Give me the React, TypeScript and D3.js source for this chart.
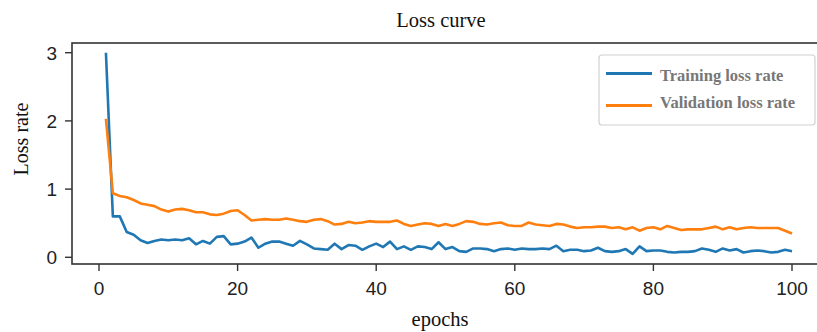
import React from "react";
import * as d3 from "d3";

const epochs: number[] = Array.from({ length: 100 }, (_, i) => i + 1);

const trainingLoss: number[] = [
  3.0, 0.6, 0.6, 0.37, 0.33, 0.25, 0.21, 0.24, 0.26, 0.25,
  0.26, 0.25, 0.28, 0.19, 0.24, 0.2, 0.3, 0.31, 0.19, 0.2,
  0.23, 0.29, 0.14, 0.2, 0.23, 0.23, 0.2, 0.17, 0.24, 0.19,
  0.13, 0.12, 0.11, 0.2, 0.12, 0.18, 0.17, 0.11, 0.16, 0.2,
  0.15, 0.23, 0.12, 0.16, 0.11, 0.16, 0.15, 0.12, 0.22, 0.12,
  0.15, 0.09, 0.08, 0.13, 0.13, 0.12, 0.09, 0.12, 0.13, 0.11,
  0.13, 0.12, 0.12, 0.13, 0.12, 0.17, 0.09, 0.11, 0.11, 0.09,
  0.1, 0.14, 0.09, 0.08, 0.09, 0.12, 0.05, 0.16, 0.09, 0.1,
  0.1, 0.08, 0.07, 0.08, 0.08, 0.09, 0.13, 0.11, 0.08, 0.13,
  0.1, 0.12, 0.07, 0.09, 0.1, 0.09, 0.07, 0.08, 0.11, 0.09,
];

const validationLoss: number[] = [
  2.03, 0.94, 0.9, 0.88, 0.84, 0.79, 0.77, 0.75, 0.7, 0.67,
  0.7, 0.71, 0.69, 0.66, 0.66, 0.63, 0.62, 0.64, 0.68, 0.69,
  0.62, 0.54, 0.55, 0.56, 0.55, 0.55, 0.57, 0.55, 0.53, 0.52,
  0.55, 0.56, 0.53, 0.48, 0.49, 0.52, 0.5, 0.51, 0.53, 0.52,
  0.52, 0.52, 0.54, 0.49, 0.46, 0.48, 0.5, 0.49, 0.46, 0.49,
  0.46, 0.49, 0.53, 0.52, 0.49, 0.48, 0.5, 0.51, 0.47, 0.46,
  0.46, 0.51, 0.48, 0.47, 0.46, 0.49, 0.48, 0.45, 0.43, 0.44,
  0.44, 0.45, 0.45, 0.43, 0.44, 0.41, 0.44, 0.39, 0.43, 0.44,
  0.41, 0.46, 0.43, 0.4, 0.41, 0.41, 0.41, 0.43, 0.45, 0.41,
  0.44, 0.41, 0.43, 0.44, 0.43, 0.43, 0.43, 0.43, 0.39, 0.35,
];

const xTicks: number[] = [0, 20, 40, 60, 80, 100];
const yTicks: number[] = [0, 1, 2, 3];
const seriesNames: string[] = ["Training loss rate", "Validation loss rate"];
const seriesColors: string[] = ["#1f77b4", "#ff7f0e"];

export default function App() {
  const W = 817;
  const H = 332;
  const left = 72;
  const top = 43;
  const bottom = 264;
  const right = 826;

  const x = d3.scaleLinear().domain([0, 100]).range([99, 792]);
  const y = d3.scaleLinear().domain([0, 3]).range([257.3, 52.7]);

  const line = d3
    .line<number>()
    .x((_, i) => x(epochs[i]))
    .y((d) => y(d));

  const series = [trainingLoss, validationLoss];

  return (
    <svg
      width={W}
      height={H}
      style={{ position: "absolute", left: 0, top: 0, background: "#fff" }}
    >
      <rect x={0} y={0} width={W} height={H} fill="#fff" />
      <text
        x={441}
        y={27}
        textAnchor="middle"
        fontFamily="Liberation Serif, Times New Roman, serif"
        fontSize={20.5}
        fill="#111"
      >
        Loss curve
      </text>

      <g>
        {series.map((s, k) => (
          <path
            key={k}
            d={line(s) || ""}
            fill="none"
            stroke={seriesColors[k]}
            strokeWidth={2.6}
            strokeLinejoin="round"
          />
        ))}
      </g>

      <rect
        x={left}
        y={top}
        width={right - left}
        height={bottom - top}
        fill="none"
        stroke="#333"
        strokeWidth={1.6}
      />

      {yTicks.map((t) => (
        <g key={"y" + t}>
          <line x1={65} x2={left} y1={y(t)} y2={y(t)} stroke="#333" strokeWidth={1.4} />
          <text
            x={57}
            y={y(t) + 7}
            textAnchor="end"
            fontFamily="Liberation Sans, Arial, sans-serif"
            fontSize={19}
            fill="#222"
          >
            {t}
          </text>
        </g>
      ))}

      {xTicks.map((t) => (
        <g key={"x" + t}>
          <line x1={x(t)} x2={x(t)} y1={bottom} y2={271} stroke="#333" strokeWidth={1.4} />
          <text
            x={x(t)}
            y={295}
            textAnchor="middle"
            fontFamily="Liberation Sans, Arial, sans-serif"
            fontSize={19}
            fill="#222"
          >
            {t}
          </text>
        </g>
      ))}

      <text
        transform="translate(28,139) rotate(-90)"
        textAnchor="middle"
        fontFamily="Liberation Serif, Times New Roman, serif"
        fontSize={20}
        fill="#111"
      >
        Loss rate
      </text>
      <text
        x={440}
        y={326}
        textAnchor="middle"
        fontFamily="Liberation Serif, Times New Roman, serif"
        fontSize={20.5}
        fill="#111"
      >
        epochs
      </text>

      <g>
        <rect
          x={599}
          y={55}
          width={216}
          height={70}
          rx={3}
          fill="#fff"
          stroke="#d0d0d0"
          strokeWidth={1.2}
        />
        {seriesNames.map((n, k) => (
          <g key={n}>
            <line
              x1={606}
              x2={652}
              y1={73.5 + k * 32}
              y2={73.5 + k * 32}
              stroke={seriesColors[k]}
              strokeWidth={2.8}
            />
            <text
              x={660}
              y={80.5 + k * 27.5}
              fontFamily="Liberation Serif, Times New Roman, serif"
              fontWeight="bold"
              fontSize={16.5}
              fill="#777"
            >
              {n}
            </text>
          </g>
        ))}
      </g>
    </svg>
  );
}
